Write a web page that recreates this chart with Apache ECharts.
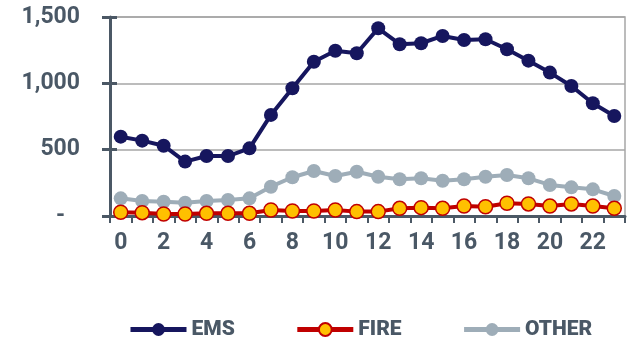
<!DOCTYPE html>
<html>
<head>
<meta charset="utf-8">
<script src="https://cdn.jsdelivr.net/npm/echarts@6/dist/echarts.min.js"></script>
<style>
  html, body { margin: 0; padding: 0; background: #fff; }
  #chart { width: 633px; height: 340px; }
</style>
</head>
<body>
<div id="chart"></div>
<script>
// Hour of day
const hours = ['0','1','2','3','4','5','6','7','8','9','10','11','12','13','14','15','16','17','18','19','20','21','22','23'];

// Incident counts by hour
const ems   = [598, 568, 530, 410, 452, 452, 510, 762, 963, 1163, 1246, 1227, 1415, 1295, 1302, 1357, 1327, 1332, 1257, 1171, 1081, 980, 850, 754];
const fire  = [28, 25, 15, 15, 20, 20, 20, 45, 38, 38, 45, 33, 33, 58, 63, 58, 75, 70, 96, 91, 75, 91, 75, 58];
const other = [133, 113, 108, 100, 113, 121, 133, 221, 292, 339, 302, 334, 296, 277, 284, 266, 277, 296, 309, 284, 234, 216, 201, 151];

const yTicks = { min: 0, max: 1500, interval: 500 };

const textColor = '#4a5866';
const axisColor = '#4b5865';
const font = 'Roboto, "Noto Sans", sans-serif';

const chart = echarts.init(document.getElementById('chart'), null, { renderer: 'canvas' });

chart.setOption({
  animation: false,
  backgroundColor: '#ffffff',
  grid: {
    left: 110, right: 8, top: 17, bottom: 124,
    show: true, borderColor: '#a6a6a6', borderWidth: 1.5
  },
  legend: {
    left: 123, top: 314,
    itemWidth: 56, itemHeight: 16, itemGap: 60,
    lineStyle: { width: 5 },
    textStyle: { color: textColor, fontFamily: 'Roboto', fontWeight: 900, fontSize: 21 },
    data: ['EMS', 'FIRE', 'OTHER']
  },
  xAxis: {
    type: 'category',
    data: hours,
    boundaryGap: true,
    axisLine: { lineStyle: { color: axisColor, width: 3 } },
    axisTick: { show: true, interval: 0, length: 7, lineStyle: { color: axisColor, width: 2 } },
    axisLabel: { interval: 1, margin: 16, color: textColor, fontFamily: font, fontWeight: 'bold', fontSize: 23 },
    splitLine: { show: false }
  },
  yAxis: [{
    type: 'value',
    min: yTicks.min, max: yTicks.max, interval: yTicks.interval,
    axisLine: { show: true, lineStyle: { color: axisColor, width: 3 } },
    axisTick: { show: true, length: 8, lineStyle: { color: axisColor, width: 3 } },
    axisLabel: {
      margin: 30, color: textColor, fontFamily: font, fontWeight: 'bold', fontSize: 23,
      formatter: v => v === 0 ? '{z|-}' : v.toLocaleString('en-US'),
      rich: { z: { color: textColor, fontFamily: font, fontWeight: 'bold', fontSize: 23, padding: [0, 15, 0, 0] } }
    },
    splitLine: { show: true, lineStyle: { color: '#a6a6a6', width: 1.5 } }
  }, {
    // inner half of the crossing tick marks
    type: 'value', position: 'left',
    min: yTicks.min, max: yTicks.max, interval: yTicks.interval,
    axisLine: { show: false },
    axisTick: { show: true, inside: true, length: 7, lineStyle: { color: axisColor, width: 3 } },
    axisLabel: { show: false },
    splitLine: { show: false }
  }],
  series: [{
    name: 'OTHER', type: 'line', data: other, z: 2,
    symbol: 'circle', symbolSize: 14,
    lineStyle: { color: '#9eadb8', width: 4 },
    itemStyle: { color: '#9eadb8' }
  }, {
    name: 'FIRE', type: 'line', data: fire, z: 3,
    symbol: 'circle', symbolSize: 14,
    lineStyle: { color: '#c00000', width: 4 },
    itemStyle: { color: '#ffc000', borderColor: '#c00000', borderWidth: 1.5 }
  }, {
    name: 'EMS', type: 'line', data: ems, z: 4,
    symbol: 'circle', symbolSize: 14,
    lineStyle: { color: '#16165e', width: 4 },
    itemStyle: { color: '#16165e' }
  }]
});
</script>
</body>
</html>
